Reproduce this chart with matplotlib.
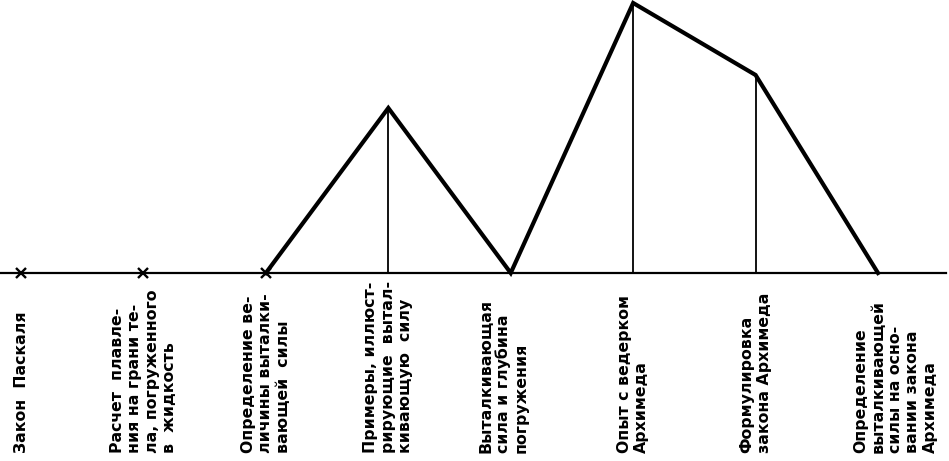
import matplotlib
matplotlib.use("Agg")
import matplotlib.pyplot as plt

# topics along the lesson, left to right
topics = [
    "Закон  Паскаля",
    "Расчет  плавле-\nния на грани те-\nла, погруженного\nв  жидкость",
    "Определение ве-\nличины выталки-\nвающей  силы",
    "Примеры, иллюст-\nрирующие  вытал-\nкивающую  силу",
    "Выталкивающая\nсила и глубина\nпогружения",
    "Опыт с ведерком\nАрхимеда",
    "Формулировка\nзакона Архимеда",
    "Определение\nвыталкивающей\nсилы на осно-\nвании закона\nАрхимеда",
]
# height of the curve above the baseline at each topic
levels = [0, 0, 0, 165, 0, 270, 198, 0]
# topics marked with a cross on the baseline
crossed = [0, 1, 2]
# first topic where the curve starts
curve_start = 2


def plot_topic_curve() -> None:
    fig = plt.figure(figsize=(9.49, 4.61), dpi=100)
    ax = fig.add_axes([0, 0, 1, 1])
    ax.set_xlim(-0.172, 7.58)
    ax.set_ylim(-188, 273)
    ax.axis("off")

    # baseline
    ax.axhline(0, xmin=0.0, xmax=0.997, color="black", lw=1.6)

    # crosses
    ax.plot(crossed, [levels[i] for i in crossed], linestyle="none",
            marker="x", markersize=6.5, mew=1.7, color="black")

    # curve
    xs = list(range(curve_start, len(levels)))
    ax.plot(xs, levels[curve_start:], color="black", lw=3,
            solid_joinstyle="miter")

    # drop lines from the peaks
    for i, lvl in enumerate(levels):
        if lvl > 0:
            ax.plot([i, i], [0, lvl], color="black", lw=1.3)

    # labels
    shift = [0, 0, 0, 0, -0.06, 0, 0, 0.14]
    for i, text in enumerate(topics):
        ax.text(i + shift[i], -180, text, rotation=90, ha="center",
                va="bottom", multialignment="left", fontsize=11.3,
                linespacing=1.2, family="DejaVu Sans", weight="bold",
                color="black")

    fig.savefig("out.png", dpi=100)


def main():
    plot_topic_curve()


if __name__ == "__main__":
    main()
